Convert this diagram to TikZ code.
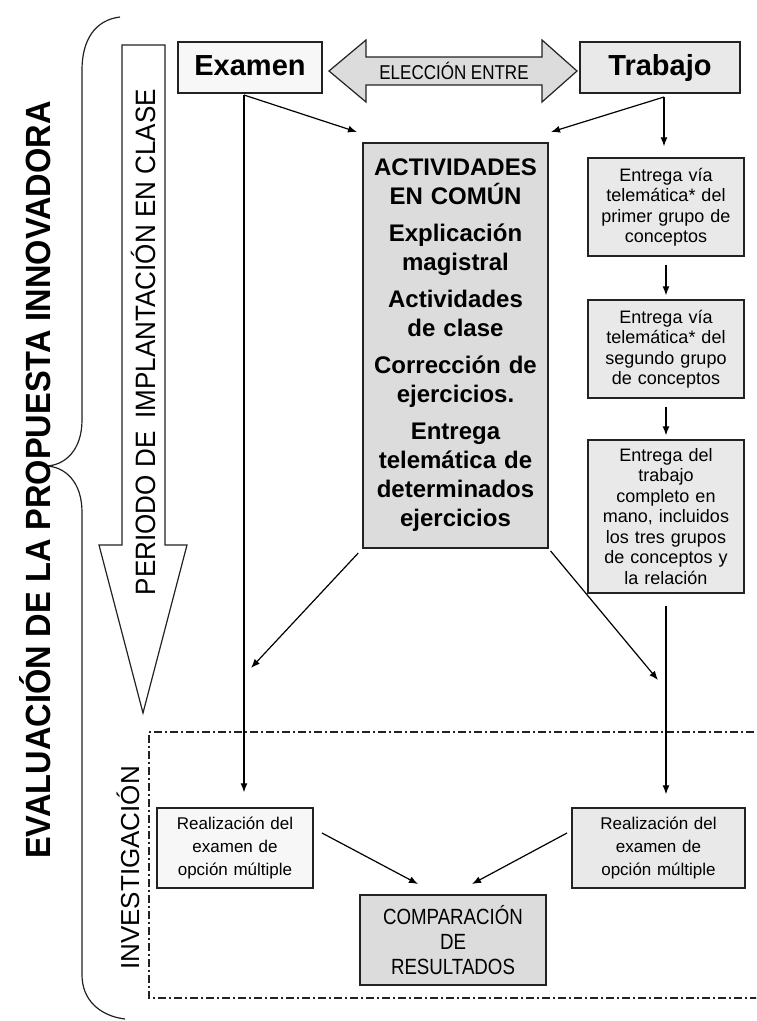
\documentclass[tikz,border=0pt]{standalone}
\usepackage{fontspec}
\setmainfont{Liberation Sans}
\newfontfamily\narrowfont[FakeStretch=0.85]{Liberation Sans}
\newfontfamily\condfont[FakeStretch=0.93]{Liberation Sans}
\usetikzlibrary{arrows.meta}
\definecolor{fillA}{HTML}{F7F7F7}
\definecolor{fillB}{HTML}{E9E9E9}
\definecolor{fillC}{HTML}{DCDCDC}
\definecolor{edge}{HTML}{222222}
\tikzset{
  box/.style={draw=edge, line width=1.4pt, inner sep=0pt, align=center},
  conn/.style={draw=black, line width=1.2pt, -{Latex[length=9pt,width=7pt]}},
  smalltxt/.style={font=\fontsize{18}{20.5}\selectfont},
  restxt/.style={font=\fontsize{17}{23}\selectfont},
  bigtitle/.style={font=\fontsize{29}{34}\selectfont\bfseries, text height=21pt, text depth=6pt},
  dashdotline/.style={draw=edge, line width=1.2pt, dash pattern=on 8pt off 3pt on 2pt off 3pt}
}
\begin{document}
\begin{tikzpicture}[x=1pt,y=-1pt]
\useasboundingbox (0,0) rectangle (756,1021);
\clip (0,0) rectangle (756,1021);
\fill[white] (0,0) rectangle (756,1021);

% brace
\draw[edge, line width=1.2pt] (120,17) .. controls (95,20) and (82,40) .. (82,70) -- (82,420)
  .. controls (82,450) and (65,466) .. (45,466)
  .. controls (65,466) and (82,482) .. (82,512) -- (82,975)
  .. controls (82,1000) and (100,1016) .. (125,1019);
\node[rotate=90, font=\condfont\fontsize{35}{38}\selectfont\bfseries] (ev) at (35,480) {EVALUACIÓN DE LA PROPUESTA INNOVADORA};

% big down arrow
\draw[edge, line width=1.2pt, fill=white] (122,45) -- (165,45) -- (165,545) -- (187,545) -- (143,713) -- (99,545) -- (122,545) -- cycle;
\node[rotate=90, font=\condfont\fontsize{28}{32}\selectfont] (per) at (143,342) {PERIODO DE\hspace{6pt} IMPLANTACIÓN EN CLASE};

% investigation frame
\draw[dashdotline] (770,732) -- (149,732) -- (149,998) -- (770,998);
\node[rotate=90, font=\fontsize{26}{30}\selectfont] (inv) at (128,868) {INVESTIGACIÓN};

% top boxes
\node[box, fill=fillA, minimum width=144pt, minimum height=51pt, bigtitle] (ex) at (250,67.5) {Examen};
\node[box, fill=fillB, minimum width=160pt, minimum height=51pt, bigtitle] (tr) at (660,67.5) {Trabajo};

% double arrow
\draw[edge, line width=1.2pt, fill=fillC] (329,71) -- (366,40) -- (366,57) -- (542,57) -- (542,40) -- (577,71)
  -- (542,102) -- (542,85) -- (366,85) -- (366,102) -- cycle;
\node[font=\narrowfont\fontsize{20}{22}\selectfont] (el) at (454,71) {ELECCIÓN ENTRE};

% central box
\node[box, fill=fillC, minimum width=185pt, minimum height=405pt, text width=180pt,
      font=\fontsize{24}{29}\selectfont\bfseries] (act) at (455.5,345.5)
  {ACTIVIDADES\\EN COMÚN\\[8pt]Explicación\\magistral\\[8pt]Actividades\\de clase\\[8pt]Corrección de\\ejercicios.\\[8pt]Entrega\\telemática de\\determinados\\ejercicios};

% right column
\node[box, fill=fillB, minimum width=156pt, minimum height=98pt, text width=150pt, smalltxt] (b1) at (666,207)
  {Entrega vía\\telemática* del\\primer grupo de\\conceptos};
\node[box, fill=fillB, minimum width=156pt, minimum height=98pt, text width=150pt, smalltxt] (b2) at (666,349)
  {Entrega vía\\telemática* del\\segundo grupo\\de conceptos};
\node[box, fill=fillB, minimum width=156pt, minimum height=153pt, text width=150pt, smalltxt] (b3) at (666,516.5)
  {Entrega del\\trabajo\\completo en\\mano, incluidos\\los tres grupos\\de conceptos y\\la relación};

% results
\node[box, fill=fillA, minimum width=156pt, minimum height=80pt, text width=150pt, restxt] (r1) at (235,848)
  {Realización del\\examen de\\opción múltiple};
\node[box, fill=fillB, minimum width=173pt, minimum height=80pt, text width=168pt, restxt] (r2) at (658.5,848)
  {Realización del\\examen de\\opción múltiple};
\node[box, fill=fillC, minimum width=186pt, minimum height=90pt, text width=180pt,
      font=\narrowfont\fontsize{22}{25}\selectfont] (comp) at (453,940)
  {COMPARACIÓN\\DE\\RESULTADOS};

% connector coordinates
\coordinate (exs) at (244,95);
\coordinate (trs) at (664,97);
\coordinate (actin1) at (357,132);
\coordinate (actin2) at (551,132);
\coordinate (al) at (251,668);
\coordinate (ar) at (658,680);
\coordinate (r1o) at (322,833);
\coordinate (r2o) at (567,833);
\coordinate (c1) at (418,884);
\coordinate (c2) at (472,884);

% connectors
\draw[conn] (exs) -- (actin1);
\draw[conn, shorten >=15pt] (exs) -- (exs |- r1.north);
\draw[conn] (trs) -- (actin2);
\draw[conn, shorten >=11pt] (trs) -- (trs |- b1.north);
\draw[conn, shorten <=8pt, shorten >=4pt] (b1.south) -- (b2.north);
\draw[conn, shorten <=8pt, shorten >=4pt] (b2.south) -- (b3.north);
\draw[conn, shorten <=12pt, shorten >=13pt] (b3.south) -- (b3.south |- r2.north);
\draw[conn, shorten <=6pt] (act.south west) -- (al);
\draw[conn, shorten <=3pt] (act.south east) -- (ar);
\draw[conn] (r1o) -- (c1);
\draw[conn] (r2o) -- (c2);
\end{tikzpicture}
\end{document}
